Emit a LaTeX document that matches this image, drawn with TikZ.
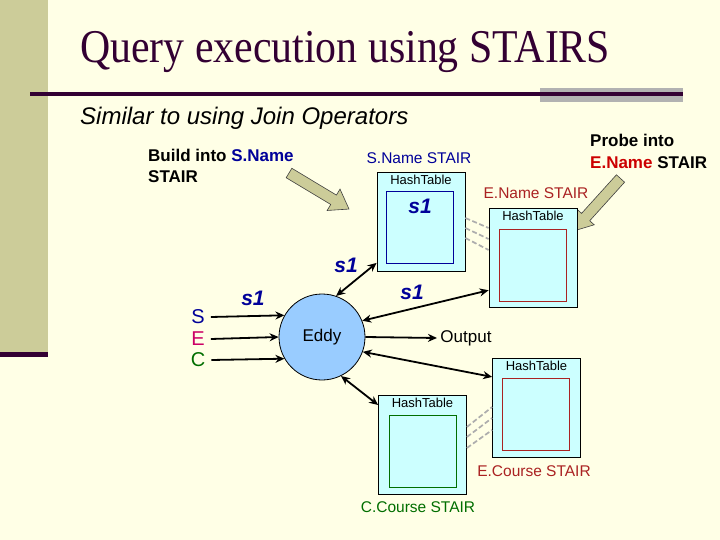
\documentclass[tikz,border=0pt]{standalone}
\usepackage{fontspec}
\setmainfont{Liberation Sans}
\newfontfamily\titlefont{Liberation Serif}
\usetikzlibrary{arrows.meta,calc}

\begin{document}
\begin{tikzpicture}[x=1pt, y=-1pt, >={Stealth[length=9pt,width=8pt]},
    stairbox/.style={draw=black, fill=boxcyan, line width=0.8pt, inner sep=0pt,
      minimum width=88pt, minimum height=99pt},
    innerbox/.style={draw=#1, fill=boxcyan, line width=0.8pt, inner sep=0pt,
      minimum width=67pt, minimum height=72pt},
    hashlabel/.style={font=\fontsize{13}{15}\selectfont, anchor=north, inner sep=3pt},
    stairlabel/.style={font=\fontsize{15.5}{18}\selectfont, text=#1},
    sone/.style={font=\fontsize{21}{24}\selectfont\bfseries\itshape, text=navy},
    flow/.style={->, line width=1.8pt},
    twoway/.style={<->, line width=1.8pt},
    hatch/.style={draw=black!32, line width=1.7pt, dash pattern=on 5pt off 2.5pt},
    blockarrow/.style={fill=khaki, draw=black!75, line width=0.6pt}]
    \definecolor{cream}{RGB}{255,255,230}
    \definecolor{khaki}{RGB}{204,204,153}
    \definecolor{titlepurple}{RGB}{51,0,51}
    \definecolor{bargray}{RGB}{178,178,178}
    \definecolor{boxcyan}{RGB}{204,255,255}
    \definecolor{eddyblue}{RGB}{153,204,255}
    \definecolor{navy}{RGB}{0,0,153}
    \definecolor{stairred}{RGB}{170,34,34}
    \definecolor{brightred}{RGB}{204,0,0}
    \definecolor{crimson}{RGB}{204,0,102}
    \definecolor{stairgreen}{RGB}{0,110,0}

    % 背景
    \fill[cream] (0,0) rectangle (720,540);
    \useasboundingbox (0,0) rectangle (720,540);
    \fill[khaki] (0,0) rectangle (48,352);
    \fill[titlepurple] (0,352) rectangle (48,357);
    \fill[bargray] (540,88) rectangle (683,102);
    \draw[titlepurple, line width=3.5pt] (30,94) -- (683,94);

    % 标题
    \node[anchor=base west, inner sep=0pt, xscale=0.89, text=titlepurple,
      font=\titlefont\fontsize{47}{52}\selectfont] (title) at (80,63) {Query execution using STAIRS};
    \node[anchor=base west, inner sep=0pt, font=\fontsize{24}{28}\selectfont\itshape]
      (subtitle) at (80,125) {Similar to using Join Operators};

    % 说明文字
    \node[anchor=west, align=left, inner sep=0pt, font=\fontsize{17}{21.5}\selectfont\bfseries]
      (build) at (148,166) {Build into \textcolor{navy}{S.Name}\\STAIR};
    \node[anchor=west, align=left, inner sep=0pt, font=\fontsize{17}{21.5}\selectfont\bfseries]
      (probe) at (590,151.5) {Probe into\\\textcolor{brightred}{E.Name} STAIR};

    % 粗箭头
    \begin{scope}[shift={(289,173)}, rotate=-31]
      \draw[blockarrow] (0,-5.5) -- (52,-5.5) -- (52,-12.5) -- (70,0) -- (52,12.5) -- (52,5.5) -- (0,5.5) -- cycle;
    \end{scope}
    \begin{scope}[shift={(620.5,178.5)}, rotate=-132.1]
      \draw[blockarrow] (0,-5.5) -- (52,-5.5) -- (52,-11.5) -- (71,0) -- (52,11.5) -- (52,5.5) -- (0,5.5) -- cycle;
    \end{scope}

    % STAIR 方框
    \node[stairbox] (sname) at (421,221.5) {};
    \node[innerbox=navy] (snamein) at (420,227.5) {};
    \node[hashlabel] at (sname.north) {HashTable};
    \node[stairlabel=navy] at (419,158) {S.Name STAIR};
    \node[sone] at (420,206) {s1};

    \node[stairbox] (ename) at (533,258) {};
    \node[innerbox=stairred] (enamein) at (532.5,265) {};
    \node[hashlabel] at (ename.north) {HashTable};
    \node[stairlabel=stairred] at (536,193) {E.Name STAIR};

    \node[stairbox] (ecourse) at (536.5,408) {};
    \node[innerbox=stairred] (ecoursein) at (535.5,414) {};
    \node[hashlabel] at (ecourse.north) {HashTable};
    \node[stairlabel=stairred] at (534,471) {E.Course STAIR};

    \node[stairbox] (ccourse) at (422.5,445) {};
    \node[innerbox=stairgreen] (ccoursein) at (422.5,451) {};
    \node[hashlabel] at (ccourse.north) {HashTable};
    \node[stairlabel=stairgreen] at (418,507) {C.Course STAIR};

    % 虚线
    \foreach \a/\b in {-3.5/-30, 6.5/-19, 16.5/-8}
      \draw[hatch] ($(sname.east)+(0,\a)$) -- ($(ename.west)+(0,\b)$);
    \foreach \a/\b in {-18/-1, -8/10, 3/22}
      \draw[hatch] ($(ccourse.east)+(0,\a)$) -- ($(ecourse.west)+(0,\b)$);

    % Eddy
    \node[circle, draw=black, fill=eddyblue, line width=0.8pt, minimum size=86pt,
      font=\fontsize{17}{20}\selectfont] (eddy) at (322,337) {Eddy};
    \node[font=\fontsize{20}{24}\selectfont, text=navy, inner sep=6pt] (s) at (198,317) {S};
    \node[font=\fontsize{20}{24}\selectfont, text=crimson, inner sep=6pt] (e) at (198,339) {E};
    \node[font=\fontsize{20}{24}\selectfont, text=stairgreen, inner sep=6pt] (c) at (198,360) {C};
    \node[font=\fontsize{17}{20}\selectfont] (output) at (466,338) {Output};

    \draw[flow] (s.east) -- (eddy.150);
    \draw[flow] (e.east) -- (eddy.180);
    \draw[flow] (c.east) -- (eddy.210);
    \draw[flow] (eddy.east) -- (output.west);
    \draw[twoway] (eddy.71) -- (sname.223);
    \draw[twoway] (eddy.22) -- (ename.216);
    \draw[twoway] (eddy.340) -- (ecourse.145);
    \draw[twoway] (eddy.296) -- (ccourse.138);

    \node[sone] at (253,298) {s1};
    \node[sone] at (346,265) {s1};
    \node[sone] at (412,292) {s1};
\end{tikzpicture}
\end{document}
